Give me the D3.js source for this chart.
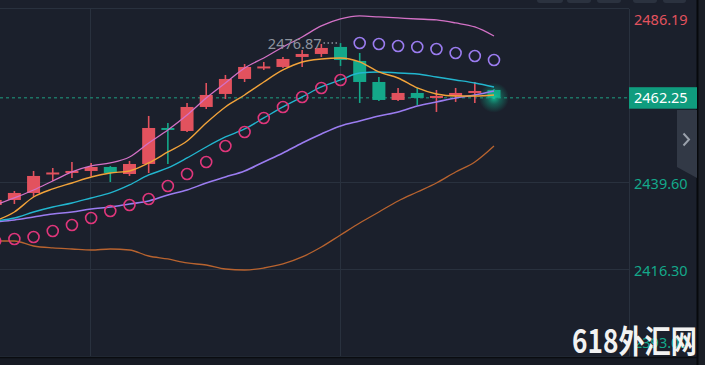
<!DOCTYPE html>
<html>
<head>
<meta charset="utf-8">
<script src="https://cdn.jsdelivr.net/npm/d3@7"></script>
<style>
  html, body { margin: 0; padding: 0; background: #1b202c; overflow: hidden; }
  svg { display: block; }
</style>
</head>
<body>
<svg id="chart" width="705" height="365"></svg>
<script>
// candle data, index 0..26 (red = up, green = down)
var opens  = [2433.52, 2434.86, 2436.74, 2441.82, 2442.09, 2442.63, 2443.70, 2441.82, 2444.50, 2454.14,
              2453.34, 2459.77, 2463.25, 2467.27, 2470.25, 2470.48, 2473.16, 2473.96, 2475.84, 2472.09,
              2466.46, 2461.64, 2463.52, 2462.18, 2462.71, 2463.52, 2464.32];
var highs  = [2435.40, 2437.27, 2442.63, 2443.43, 2445.04, 2444.77, 2443.97, 2445.31, 2457.36, 2455.48,
              2460.84, 2466.19, 2468.34, 2471.28, 2471.82, 2473.16, 2475.03, 2476.64, 2476.87, 2474.23,
              2467.80, 2464.86, 2464.86, 2464.32, 2464.86, 2466.46, 2464.59];
var lows   = [2432.99, 2433.79, 2435.66, 2439.95, 2440.75, 2441.29, 2439.68, 2441.29, 2442.09, 2444.50,
              2453.07, 2459.23, 2461.91, 2466.46, 2469.68, 2470.21, 2470.48, 2473.16, 2470.75, 2460.84,
              2461.37, 2461.37, 2460.30, 2458.43, 2461.11, 2460.84, 2461.91];
var closes = [2434.86, 2436.74, 2441.29, 2442.09, 2442.63, 2443.70, 2442.09, 2444.50, 2454.14, 2453.61,
              2459.77, 2462.98, 2467.27, 2470.48, 2470.45, 2472.62, 2473.96, 2475.57, 2472.35, 2466.46,
              2461.64, 2463.52, 2462.18, 2462.71, 2463.52, 2464.05, 2462.25];

// indicator lines
var bollUpper = [2433.52, 2435.40, 2437.54, 2439.95, 2442.36, 2443.97, 2444.77, 2446.38, 2450.13, 2453.61,
                 2457.62, 2462.18, 2466.19, 2470.21, 2472.89, 2475.84, 2478.51, 2481.46, 2483.33, 2484.14,
                 2483.87, 2483.60, 2483.33, 2483.07, 2482.26, 2481.19, 2478.78];
var bollMid   = [2429.24, 2430.04, 2431.65, 2432.99, 2434.06, 2435.40, 2436.74, 2438.88, 2441.56, 2443.43,
                 2446.11, 2449.05, 2451.73, 2453.87, 2456.82, 2459.77, 2462.44, 2465.12, 2467.00, 2468.87,
                 2469.14, 2468.87, 2468.60, 2467.80, 2467.00, 2466.19, 2465.12];
var bollLower = [2423.88, 2423.88, 2422.54, 2422.01, 2421.74, 2421.47, 2421.74, 2421.47, 2419.86, 2419.06,
                 2417.99, 2417.45, 2416.38, 2416.11, 2416.65, 2417.72, 2419.60, 2422.27, 2425.49, 2428.70,
                 2431.65, 2434.59, 2437.00, 2439.41, 2442.36, 2445.04, 2449.32];
var maFast    = [2429.24, 2431.65, 2435.66, 2437.81, 2439.41, 2441.02, 2442.09, 2442.63, 2444.77, 2447.72,
                 2450.66, 2455.48, 2459.77, 2462.98, 2466.46, 2469.68, 2471.82, 2472.62, 2472.89, 2471.82,
                 2469.14, 2467.53, 2464.86, 2463.25, 2462.71, 2462.71, 2462.98];
var maSlow    = [2428.97, 2429.50, 2430.31, 2431.11, 2431.65, 2432.45, 2432.99, 2433.79, 2434.59, 2436.20,
                 2437.54, 2439.41, 2441.02, 2442.63, 2445.04, 2447.45, 2450.13, 2452.54, 2454.68, 2456.02,
                 2457.36, 2458.43, 2460.03, 2461.11, 2462.18, 2462.98, 2464.05];
var sar       = [2423.88, 2424.42, 2424.95, 2426.56, 2428.17, 2430.04, 2431.91, 2433.52, 2435.13, 2438.61,
                 2441.82, 2445.04, 2449.32, 2453.07, 2456.82, 2459.77, 2462.44, 2464.86, 2467.00, 2476.91,
                 2476.64, 2476.10, 2475.84, 2475.30, 2474.23, 2473.42, 2472.35];

var priceTicks = [2486.19, 2462.89, 2439.60, 2416.30, 2393.00];
var gridIndex = [5, 18];
var lastPrice = 2462.25;
var highLabel = "2476.87";
var highIndex = 18;

var RED = "#e2525e", GREEN = "#14a88a";

var svg = d3.select("#chart");
var plotW = 629, plotTop = 9, plotBottom = 357;

var x = d3.scaleLinear().domain([0, 26]).range([-4.8, 494]);
var y = d3.scaleLinear().domain([2393.00, 2486.19]).range([356.3, 8.3]);

svg.append("rect").attr("width", 705).attr("height", 365).attr("fill", "#1b202c");

var defs = svg.append("defs");
defs.append("clipPath").attr("id", "plotClip")
  .append("rect").attr("x", 0).attr("y", plotTop).attr("width", plotW).attr("height", plotBottom - plotTop);
var glow = defs.append("radialGradient").attr("id", "glow");
glow.append("stop").attr("offset", "0%").attr("stop-color", "#16c79c").attr("stop-opacity", 0.9);
glow.append("stop").attr("offset", "45%").attr("stop-color", "#0fa583").attr("stop-opacity", 0.45);
glow.append("stop").attr("offset", "100%").attr("stop-color", "#0fa583").attr("stop-opacity", 0);

// top buttons
var btnX = [537, 567, 597, 633, 663];
var btnW = [26, 24, 24, 24, 23];
svg.selectAll(".btn").data(btnX).enter().append("rect")
  .attr("x", function(d) { return d; }).attr("y", -6)
  .attr("width", function(d, i) { return btnW[i]; }).attr("height", 9)
  .attr("rx", 3).attr("fill", "#2b323f");

// grid (the line under the last price is hidden)
var grid = svg.append("g");
grid.selectAll(".hg").data(priceTicks.filter(function(d) { return Math.abs(d - lastPrice) > 2; }))
  .enter().append("line")
  .attr("x1", 0).attr("x2", plotW)
  .attr("y1", function(d) { return Math.round(y(d)) + 0.5; })
  .attr("y2", function(d) { return Math.round(y(d)) + 0.5; })
  .attr("stroke", "#29313e").attr("stroke-width", 1);
grid.selectAll(".vg").data(gridIndex).enter().append("line")
  .attr("x1", function(d) { return Math.round(x(d)) - 0.5; })
  .attr("x2", function(d) { return Math.round(x(d)) - 0.5; })
  .attr("y1", plotTop).attr("y2", plotBottom)
  .attr("stroke", "#29313e").attr("stroke-width", 1);

var plot = svg.append("g").attr("clip-path", "url(#plotClip)");

// current price line
plot.append("line")
  .attr("x1", 0).attr("x2", plotW)
  .attr("y1", y(lastPrice)).attr("y2", y(lastPrice))
  .attr("stroke", "#1d7465").attr("stroke-width", 1.5)
  .attr("stroke-dasharray", "3,3");

// candles
var idx = d3.range(opens.length);
var bw = 13;
var candles = plot.selectAll(".candle").data(idx).enter().append("g");
candles.append("line")
  .attr("x1", function(i) { return x(i); }).attr("x2", function(i) { return x(i); })
  .attr("y1", function(i) { return y(highs[i]); }).attr("y2", function(i) { return y(lows[i]); })
  .attr("stroke", function(i) { return closes[i] >= opens[i] ? RED : GREEN; })
  .attr("stroke-width", 1.6);
candles.append("rect")
  .attr("x", function(i) { return x(i) - bw / 2; })
  .attr("width", bw)
  .attr("y", function(i) {
    var t = y(Math.max(opens[i], closes[i])), b = y(Math.min(opens[i], closes[i]));
    return b - t < 2 ? (t + b) / 2 - 1 : t;
  })
  .attr("height", function(i) {
    var t = y(Math.max(opens[i], closes[i])), b = y(Math.min(opens[i], closes[i]));
    return Math.max(2, b - t);
  })
  .attr("fill", function(i) { return closes[i] >= opens[i] ? RED : GREEN; });

// glow on the last candle
var last = opens.length - 1;
plot.append("circle")
  .attr("cx", x(last)).attr("cy", y(lastPrice))
  .attr("r", 15).attr("fill", "url(#glow)");

// lines
function drawLine(vals, color, w) {
  var line = d3.line()
    .x(function(d, i) { return x(i); })
    .y(function(d) { return y(d); })
    .curve(d3.curveMonotoneX);
  plot.append("path").datum(vals)
    .attr("d", line).attr("fill", "none")
    .attr("stroke", color).attr("stroke-width", w);
}
drawLine(bollLower, "#b8632f", 1.3);
drawLine(bollUpper, "#d371c6", 1.3);
drawLine(maSlow, "#9b7cf0", 1.6);
drawLine(bollMid, "#22b6cf", 1.4);
drawLine(maFast, "#f2a33a", 1.4);

// SAR circles
plot.selectAll(".sar").data(idx).enter().append("circle")
  .attr("cx", function(i) { return x(i); })
  .attr("cy", function(i) { return y(sar[i]); })
  .attr("r", 5.5).attr("fill", "none").attr("stroke-width", 1.6)
  .attr("stroke", function(i) { return sar[i] < closes[i] ? "#e0367b" : "#9b7cf0"; });

// high marker
var hx = x(highIndex), hy = y(highs[highIndex]);
plot.append("line")
  .attr("x1", hx - 17).attr("x2", hx - 3).attr("y1", hy).attr("y2", hy)
  .attr("stroke", "#8c939e").attr("stroke-width", 1.5).attr("stroke-dasharray", "1.5,2.5");
plot.append("text")
  .attr("x", hx - 19).attr("y", hy + 2)
  .attr("text-anchor", "end").attr("dominant-baseline", "middle")
  .attr("font-family", "'Noto Sans', sans-serif").attr("font-size", 14.5)
  .attr("fill", "#8c939e").text(highLabel);

// frame
svg.append("line").attr("x1", plotW + 0.5).attr("x2", plotW + 0.5).attr("y1", plotTop).attr("y2", plotBottom)
  .attr("stroke", "#29313e");
svg.append("rect").attr("x", 0).attr("y", plotBottom).attr("width", 705).attr("height", 365 - plotBottom)
  .attr("fill", "#161a23");
svg.append("line").attr("x1", 0).attr("x2", 697).attr("y1", plotBottom + 0.5).attr("y2", plotBottom + 0.5)
  .attr("stroke", "#0a0c10").attr("stroke-width", 1.5);
svg.append("rect").attr("x", 697).attr("y", 0).attr("width", 8).attr("height", 365).attr("fill", "#1a1e26");
svg.append("line").attr("x1", 697.5).attr("x2", 697.5).attr("y1", 0).attr("y2", 365)
  .attr("stroke", "#07090c").attr("stroke-width", 2);

// price axis
var axis = svg.append("g")
  .attr("transform", "translate(" + (plotW + 5) + ",0)")
  .call(d3.axisRight(y).tickValues(priceTicks).tickSize(0).tickPadding(0)
    .tickFormat(function(d) { return d.toFixed(2); }));
axis.select(".domain").remove();
axis.selectAll(".tick")
  .attr("transform", function(d) { return "translate(0," + Math.min(343, Math.max(20, y(d) + 2)) + ")"; });
axis.selectAll("text")
  .attr("font-family", "'Noto Sans', sans-serif").attr("font-size", 14.5)
  .attr("fill", function(d) { return d > lastPrice ? RED : GREEN; });

// side tab
svg.append("polygon")
  .attr("points", "677,110 697,110 697,178 677,167")
  .attr("fill", "#323946");
svg.append("path")
  .attr("d", "M683.5,133.5 L689,139.5 L683.5,145.5")
  .attr("fill", "none").attr("stroke", "#9aa1ab").attr("stroke-width", 2);

// current price label
var ly = y(lastPrice);
svg.append("rect")
  .attr("x", plotW).attr("y", ly - 10.5).attr("width", 68).attr("height", 21.5)
  .attr("fill", "#0f9c7e");
svg.append("text")
  .attr("x", plotW + 5).attr("y", ly + 1)
  .attr("dominant-baseline", "middle")
  .attr("font-family", "'Noto Sans', sans-serif").attr("font-size", 14.5)
  .attr("fill", "#ffffff").text(lastPrice.toFixed(2));

// watermark
svg.append("text")
  .attr("x", 572).attr("y", 353)
  .attr("font-family", "'Noto Sans CJK SC', sans-serif").attr("font-weight", "bold")
  .attr("font-size", 32).attr("textLength", 125).attr("lengthAdjust", "spacingAndGlyphs")
  .attr("fill", "#f2f2f2").text("618外汇网");
</script>
</body>
</html>
